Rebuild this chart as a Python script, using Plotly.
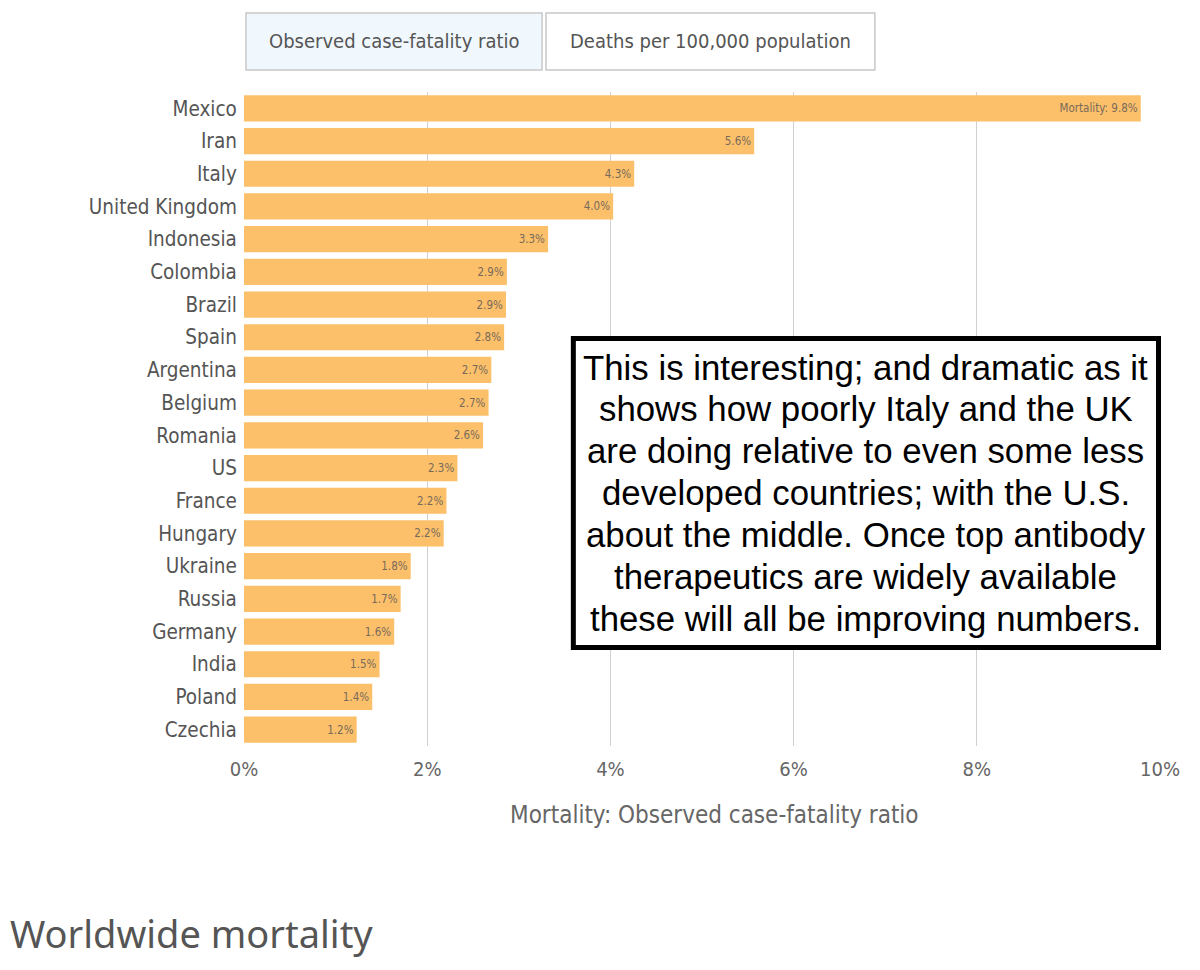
import plotly.graph_objects as go

paises = ['Mexico', 'Iran', 'Italy', 'United Kingdom', 'Indonesia', 'Colombia', 'Brazil',
          'Spain', 'Argentina', 'Belgium', 'Romania', 'US', 'France', 'Hungary', 'Ukraine',
          'Russia', 'Germany', 'India', 'Poland', 'Czechia']
mortalidade = [9.79, 5.57, 4.26, 4.03, 3.32, 2.87, 2.86, 2.84, 2.70, 2.67, 2.61, 2.33,
               2.21, 2.18, 1.82, 1.71, 1.64, 1.48, 1.40, 1.23]
botoes = ['Observed case-fatality ratio', 'Deaths per 100,000 population']
nota = ['This is interesting; and dramatic as it',
        'shows how poorly Italy and the UK',
        'are doing relative to even some less',
        'developed countries; with the U.S.',
        'about the middle. Once top antibody',
        'therapeutics are widely available',
        'these will all be improving numbers.']

fonte = 'DejaVu Sans Condensed, DejaVu Sans, sans-serif'
cinza = '#666666'

# a pagina tem 8px de margem no body
OFF = 8
L, R, T, B = 244, 1166, 92, 746

def px_x(p):
    return (p - L) / (R - L)

def px_y(p):
    return (B - p) / (B - T)

textos = ['%.1f%%' % v for v in mortalidade]
textos[0] = 'Mortality: ' + textos[0]

fig = go.Figure(go.Bar(x=mortalidade, y=paises, orientation='h', text=textos,
                       textposition='inside', insidetextanchor='end',
                       insidetextfont=dict(size=11.5, color='#776a5a', family=fonte),
                       marker_color='#FDC06A', marker_line_width=0))

W, H = 1200 - 2 * OFF, 970 - 2 * OFF
fig.update_layout(width=W, height=H,
                  margin=dict(l=L - OFF, r=W - (R - OFF), t=T - OFF, b=H - (B - OFF)),
                  plot_bgcolor='white', paper_bgcolor='white', bargap=0.2,
                  showlegend=False, font=dict(family=fonte, color=cinza),
                  title=dict(text='Worldwide mortality', x=(10 - OFF) / W, xanchor='left',
                             xref='container', y=1 - (935 - OFF) / H, yanchor='middle',
                             yref='container',
                             font=dict(size=38, color='#555555', family='Noto Sans')))

fig.update_xaxes(range=[0, 10], dtick=2, ticksuffix='%', showgrid=True, gridcolor='#d0d0d0',
                 zeroline=False, tickfont=dict(size=20, color=cinza),
                 ticks='outside', ticklen=5, tickcolor='rgba(0,0,0,0)')
fig.update_yaxes(autorange='reversed', tickfont=dict(size=20.5, color='#555555'),
                 ticks='outside', ticklen=2, tickcolor='rgba(0,0,0,0)', showgrid=False)

# titulo do eixo x
fig.add_annotation(xref='paper', yref='paper', x=px_x(718), y=px_y(815),
                   xanchor='center', yanchor='middle', showarrow=False,
                   text='Mortality: Observed case-fatality ratio',
                   font=dict(size=24, color=cinza))

# botoes do topo
caixas = [(246, 544), (548, 879)]
for i, (rotulo, (a, b)) in enumerate(zip(botoes, caixas)):
    fig.add_shape(type='rect', xref='paper', yref='paper', x0=px_x(a), x1=px_x(b),
                  y0=px_y(70), y1=px_y(13), line=dict(color='#c8c8c8', width=1.5),
                  fillcolor='#F0F7FD' if i == 0 else 'white', layer='above')
    fig.add_annotation(xref='paper', yref='paper', x=px_x((a + b) / 2), y=px_y(41.5),
                       xanchor='center', yanchor='middle',
                       text=rotulo, showarrow=False, font=dict(size=20, color='#555555'))

# caixa de comentario
fig.add_shape(type='rect', xref='paper', yref='paper', x0=px_x(575.5), x1=px_x(1164.5),
              y0=px_y(647.5), y1=px_y(338.5), line=dict(color='black', width=5),
              fillcolor='white', layer='above')
for i, linha in enumerate(nota):
    fig.add_annotation(xref='paper', yref='paper', x=px_x(870), y=px_y(367 + 41.9 * i),
                       xanchor='center', yanchor='middle', text=linha, showarrow=False,
                       font=dict(size=34.8, color='black', family='Liberation Sans, Arial'))

fig.write_html('out.html')
